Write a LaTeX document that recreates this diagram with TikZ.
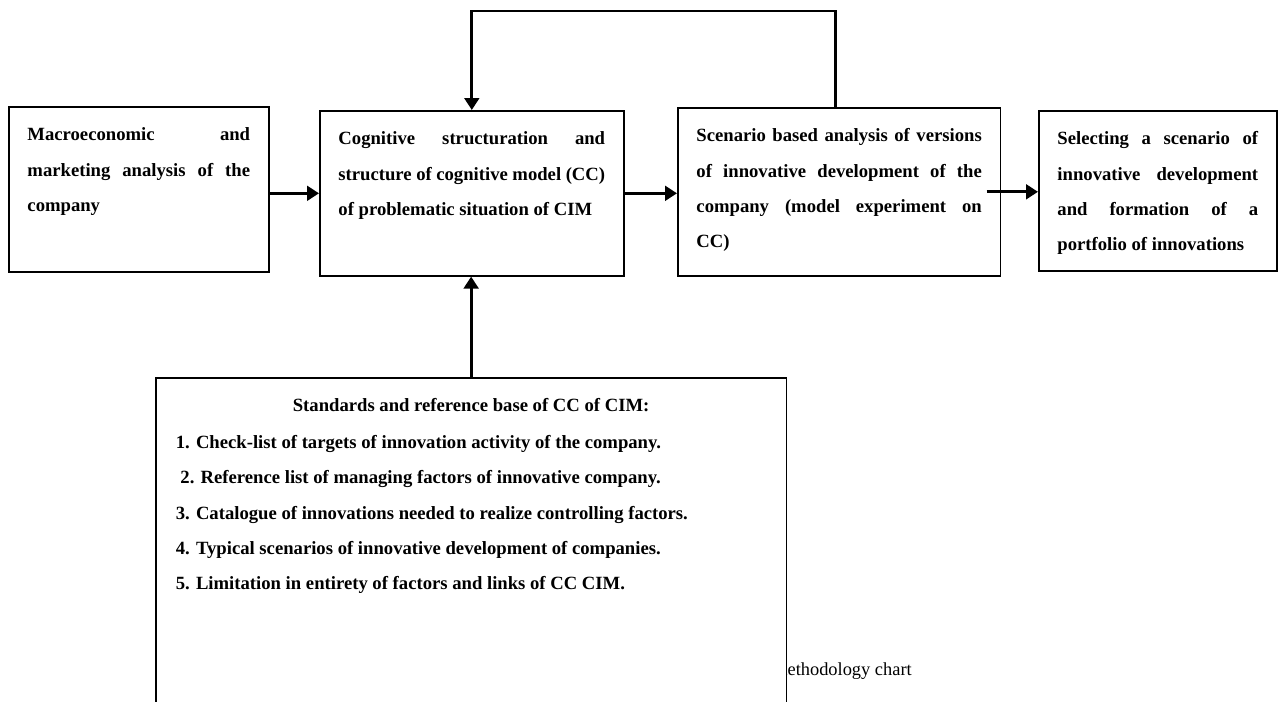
\documentclass[tikz,border=0pt]{standalone}
\usepackage{fontspec}
\setmainfont{Liberation Serif}
\usetikzlibrary{arrows.meta}

% text block of a box: height, width, text (first baseline at a fixed depth)
\newcommand{\boxtext}[3]{\parbox[c][#1][t]{#2}{\rule{0pt}{25.5pt}#3}}

\tikzset{
  stage/.style={draw, line width=1.2pt, fill=white, anchor=north west,
    inner ysep=0pt, inner xsep=14pt,
    font=\fontsize{14}{26.5}\selectfont\bfseries},
  flow/.style={line width=2.2pt, -{Triangle[length=9pt,width=11pt]}},
}

\begin{document}
\begin{tikzpicture}[x=0.75pt,y=-0.75pt]
\clip (0,0) rectangle (1281,701);

% caption, partly hidden behind the base box
\node[anchor=base east, inner sep=0pt, font=\fontsize{13.8}{16}\selectfont] (caption) at (912,675) {methodology chart};

\node[stage] (macro) at (8,106) {\boxtext{123.75pt}{167pt}{Macroeconomic and\linebreak marketing analysis of the\linebreak company}};
\node[stage] (cogn) at (319,110) {\boxtext{123.75pt}{200pt}{Cognitive structuration and\linebreak structure of cognitive model (CC)\linebreak of problematic situation of CIM}};
\node[stage] (scen) at (677,107) {\boxtext{126pt}{214pt}{Scenario based analysis of versions\linebreak of innovative development of the\linebreak company (model experiment on\linebreak CC)}};
\node[stage] (sel) at (1038,110) {\boxtext{120pt}{150.5pt}{Selecting a scenario of\linebreak innovative development\linebreak and formation of a\linebreak portfolio of innovations}};

\node[stage, inner xsep=15pt] (base) at (155,377) {\boxtext{257pt}{443pt}{%
  {\centering Standards and reference base of CC of CIM:\par}
  \vspace{1pt}
  1. Check-list of targets of innovation activity of the company.\par
  \ 2. Reference list of managing factors of innovative company.\par
  3. Catalogue of innovations needed to realize controlling factors.\par
  4. Typical scenarios of innovative development of companies.\par
  5. Limitation in entirety of factors and links of CC CIM.\par}};

\draw[flow] ([yshift=-3pt]macro.east) -- ([yshift=-3pt]macro.east -| cogn.west);
\draw[flow] (cogn.east) -- (cogn.east -| scen.west);
\draw[flow] ([xshift=-11pt]scen.east) -- (scen.east -| sel.west);

\coordinate (loop) at (0,11);
\draw[flow] ([xshift=-3pt]scen.north) -- ([xshift=-3pt]scen.north |- loop) -| (cogn.north);
\draw[flow] (base.north) -- (base.north |- cogn.south);

\end{tikzpicture}
\end{document}
